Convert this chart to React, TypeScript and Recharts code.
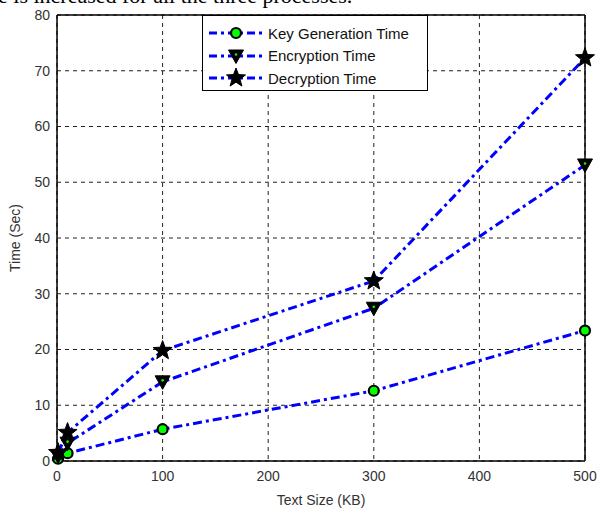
import React from 'react';
import { LineChart, Line, XAxis, YAxis, CartesianGrid, ReferenceLine } from 'recharts';

const textSizes = [1, 10, 100, 300, 500];
const keyGenTime = [0.4, 1.4, 5.7, 12.6, 23.4];
const encryptionTime = [0.9, 3.2, 14.2, 27.4, 53.1];
const decryptionTime = [1.5, 5.1, 19.8, 32.3, 72.3];
const xTicks = [0, 100, 200, 300, 400, 500];
const yTicks = [0, 10, 20, 30, 40, 50, 60, 70, 80];
const seriesNames = ['Key Generation Time', 'Encryption Time', 'Decryption Time'];

const data = textSizes.map((x, i) => ({
  x,
  key: keyGenTime[i],
  enc: encryptionTime[i],
  dec: decryptionTime[i],
}));

const BLUE = '#0000ff';
const GREEN = '#00ff00';
const DASH = '9 4 3 4';
const FONT = '"Liberation Sans", Arial, sans-serif';

function starPath(cx: number, cy: number, ro: number, ri: number) {
  let d = '';
  for (let i = 0; i < 10; i++) {
    const r = i % 2 === 0 ? ro : ri;
    const a = -Math.PI / 2 + (i * Math.PI) / 5;
    d += (i === 0 ? 'M' : 'L') + (cx + r * Math.cos(a)).toFixed(2) + ',' + (cy + r * Math.sin(a)).toFixed(2);
  }
  return d + 'Z';
}

const CircleMark = ({ cx, cy }: { cx: number; cy: number }) => (
  <g>
    <circle cx={cx} cy={cy} r={5} fill={GREEN} stroke="#000" strokeWidth={2.2} />
  </g>
);

const TriMark = ({ cx, cy }: { cx: number; cy: number }) => (
  <g>
    <path d={`M${cx - 7.5},${cy - 6}L${cx + 7.5},${cy - 6}L${cx},${cy + 7.5}Z`} fill="#000" stroke="#000" strokeWidth={1} />
    <circle cx={cx} cy={cy - 1.5} r={1.3} fill={GREEN} />
  </g>
);

const StarMark = ({ cx, cy }: { cx: number; cy: number }) => (
  <g>
    <path d={starPath(cx, cy, 10, 4.2)} fill="#000" stroke="#000" strokeWidth={1} />
  </g>
);

const dotFn = (Comp: any) => (props: any) => {
  const { cx, cy, index } = props;
  if (cx == null || cy == null) return <g key={index} />;
  return <Comp key={index} cx={cx} cy={cy} />;
};

const marks = [CircleMark, TriMark, StarMark];

const LegendBox = () => (
  <div
    style={{
      position: 'absolute',
      left: 202,
      top: 15,
      width: 226,
      height: 76,
      border: '1px solid #000',
      background: '#fff',
      boxSizing: 'border-box',
      fontFamily: FONT,
      fontSize: 15,
      color: '#111',
      paddingTop: 6,
    }}
  >
    {seriesNames.map((name, i) => {
      const M = marks[i];
      return (
        <div key={name} style={{ display: 'flex', alignItems: 'center', height: 22.5 }}>
          <svg width={64} height={22} style={{ flex: 'none' }}>
            <line x1={6} y1={11} x2={60} y2={11} stroke={BLUE} strokeWidth={3} strokeDasharray="8 4 3 4" />
            <M cx={33} cy={11} />
          </svg>
          <span style={{ marginLeft: 1, whiteSpace: 'nowrap' }}>{name}</span>
        </div>
      );
    })}
  </div>
);

export default function App() {
  return (
    <div style={{ position: 'absolute', left: 0, top: 0, width: 599, height: 508, overflow: 'hidden', background: '#fff' }}>
      <div
        style={{
          position: 'absolute',
          left: -2,
          top: -16,
          fontFamily: '"Liberation Serif", "Times New Roman", serif',
          fontSize: 22,
          lineHeight: '24px',
          whiteSpace: 'nowrap',
          color: '#000',
        }}
      >
        e is increased for all the three processes.
      </div>
      <LineChart width={599} height={508} data={data} margin={{ top: 15, right: 14, left: 0, bottom: 0 }}>
        <CartesianGrid stroke="#222" strokeDasharray="4 4" strokeWidth={1} vertical horizontal />
        <XAxis
          dataKey="x"
          type="number"
          domain={[0, 500]}
          ticks={xTicks}
          height={47}
          tickLine={false}
          tickSize={6}
          tickMargin={4}
          axisLine={{ stroke: '#000', strokeWidth: 1.5 }}
          tick={{ fill: '#333', fontSize: 14, fontFamily: FONT }}
          label={{ value: 'Text Size (KB)', position: 'insideBottom', offset: 3, fill: '#333', fontSize: 14, fontFamily: FONT }}
        />
        <YAxis
          type="number"
          domain={[0, 80]}
          ticks={yTicks}
          width={57}
          tickLine={false}
          tickSize={5}
          tickMargin={2}
          axisLine={{ stroke: '#000', strokeWidth: 1.5 }}
          tick={{ fill: '#333', fontSize: 14, fontFamily: FONT }}
          label={{ value: 'Time (Sec)', angle: -90, position: 'insideLeft', offset: 15, fill: '#333', fontSize: 14, fontFamily: FONT, style: { textAnchor: 'middle' } }}
        />
        <ReferenceLine x={500} stroke="#000" strokeWidth={1.5} />
        <ReferenceLine y={80} stroke="#000" strokeWidth={1.5} />
        <Line dataKey="key" name={seriesNames[0]} stroke={BLUE} strokeWidth={3} strokeDasharray={DASH} dot={dotFn(CircleMark)} activeDot={false} isAnimationActive={false} />
        <Line dataKey="enc" name={seriesNames[1]} stroke={BLUE} strokeWidth={3} strokeDasharray={DASH} dot={dotFn(TriMark)} activeDot={false} isAnimationActive={false} />
        <Line dataKey="dec" name={seriesNames[2]} stroke={BLUE} strokeWidth={3} strokeDasharray={DASH} dot={dotFn(StarMark)} activeDot={false} isAnimationActive={false} />
      </LineChart>
      <LegendBox />
    </div>
  );
}
